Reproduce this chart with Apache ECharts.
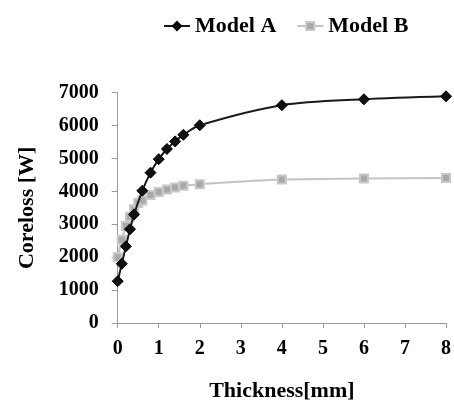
<!DOCTYPE html>
<html>
<head>
<meta charset="utf-8">
<script src="https://cdn.jsdelivr.net/npm/echarts@6/dist/echarts.min.js"></script>
<style>html,body{margin:0;padding:0;background:#fff}#c{width:454px;height:407px}</style>
</head>
<body>
<div id="c"></div>
<script>
var thicknessA = [0, 0.1, 0.2, 0.3, 0.4, 0.6, 0.8, 1.0, 1.2, 1.4, 1.6, 2, 4, 6, 8];
var corelossA  = [1270, 1800, 2330, 2850, 3300, 4020, 4570, 4980, 5290, 5520, 5720, 6010, 6620, 6800, 6890];
var thicknessB = [0, 0.1, 0.2, 0.3, 0.4, 0.5, 0.6, 0.8, 1.0, 1.2, 1.4, 1.6, 2, 4, 6, 8];
var corelossB  = [2000, 2530, 2950, 3230, 3460, 3650, 3720, 3890, 3980, 4060, 4120, 4170, 4220, 4360, 4390, 4410];
var seriesNames = ['Model A', 'Model B'];

function pairs(xs, ys) { return xs.map(function (x, i) { return [x, ys[i]]; }); }

var FONT = 'Liberation Serif';
var chart = echarts.init(document.getElementById('c'));
chart.setOption({
  animation: false,
  backgroundColor: '#fff',
  textStyle: { fontFamily: FONT },
  legend: {
    left: 158, top: 10,
    itemWidth: 26, itemHeight: 10, itemGap: 20,
    textStyle: { fontFamily: FONT, fontWeight: 'bold', fontSize: 22, color: '#000' },
    data: seriesNames
  },
  grid: { left: 117.7, right: 7.3, top: 92.7, bottom: 80.3, containLabel: false },
  xAxis: {
    type: 'value', min: 0, max: 8, interval: 1,
    name: 'Thickness[mm]', nameLocation: 'middle', nameGap: 57,
    nameTextStyle: { fontFamily: FONT, fontWeight: 'bold', fontSize: 22, color: '#000' },
    axisLine: { show: true, lineStyle: { color: '#9a9a9a', width: 1 } },
    axisTick: { show: true, inside: false, length: 5, lineStyle: { color: '#9a9a9a' } },
    axisLabel: { fontFamily: FONT, fontWeight: 'bold', fontSize: 20, color: '#000', margin: 16 },
    splitLine: { show: false }
  },
  yAxis: {
    type: 'value', min: 0, max: 7000, interval: 1000,
    name: 'Coreloss [W]', nameLocation: 'middle', nameGap: 79, nameRotate: 90,
    nameTextStyle: { fontFamily: FONT, fontWeight: 'bold', fontSize: 22, color: '#000' },
    axisLine: { show: true, lineStyle: { color: '#9a9a9a', width: 1 } },
    axisTick: { show: true, inside: false, length: 6, lineStyle: { color: '#9a9a9a' } },
    axisLabel: { fontFamily: FONT, fontWeight: 'bold', fontSize: 20, color: '#000', margin: 19,
                 formatter: function (v) { return String(v); } },
    splitLine: { show: false }
  },
  series: [
    {
      name: seriesNames[0], type: 'line', smooth: 0.3,
      data: pairs(thicknessA, corelossA),
      symbol: 'diamond', symbolSize: 11,
      itemStyle: { color: '#111', borderColor: '#000', borderWidth: 1 },
      lineStyle: { color: '#1a1a1a', width: 2 },
      z: 3
    },
    {
      name: seriesNames[1], type: 'line', smooth: 0.3,
      data: pairs(thicknessB, corelossB),
      symbol: 'rect', symbolSize: 8,
      itemStyle: { color: '#a8a8a8', borderColor: '#c8c8c8', borderWidth: 2 },
      lineStyle: { color: '#c4c4c4', width: 2 },
      z: 2
    }
  ]
});
</script>
</body>
</html>
